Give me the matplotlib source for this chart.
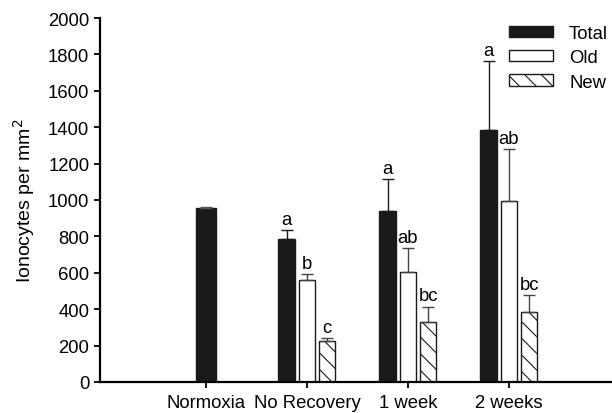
import matplotlib
matplotlib.use('Agg')
from matplotlib import pyplot as plt
import numpy as np

plt.rcParams['font.family'] = ['Liberation Sans', 'DejaVu Sans']
plt.rcParams['hatch.linewidth'] = 0.8

groups = ['Normoxia', 'No Recovery', '1 week', '2 weeks']

# Normoxia only has a total
normoxia_total = 954
normoxia_err = 8

# No Recovery, 1 week, 2 weeks
total = [783, 939, 1387]
total_err = [50, 178, 378]
old = [558, 607, 994]
old_err = [36, 130, 288]
new = [227, 330, 385]
new_err = [15, 84, 94]

total_lbl = ['a', 'a', 'a']
old_lbl = ['b', 'ab', 'ab']
new_lbl = ['c', 'bc', 'bc']

fig = plt.figure(figsize=(6.12, 4.14), dpi=100)
ax = fig.add_axes([0.163, 0.075, 0.837, 0.879])

x = np.arange(len(groups))
xs = x[1:]
w = 0.165
step = 0.2
ekw = dict(elinewidth=1, capthick=1, capsize=4.5)
fs = 13.3

ax.bar(x[0], normoxia_total, 0.2, yerr=[[0], [normoxia_err]], color='#1a1a1a',
       edgecolor='#1a1a1a', ecolor='#555555', error_kw=ekw)
ax.bar(xs - step, total, w, yerr=[[0]*3, total_err], color='#1a1a1a', edgecolor='#1a1a1a',
       ecolor='#1a1a1a', error_kw=ekw, label='Total')
ax.bar(xs, old, w, yerr=[[0]*3, old_err], color='white', edgecolor='#1a1a1a', linewidth=1,
       ecolor='#444444', error_kw=ekw, label='Old')
ax.bar(xs + step, new, w, yerr=[[0]*3, new_err], color='white', edgecolor='#1a1a1a', linewidth=1,
       hatch='\\\\', ecolor='#444444', error_kw=ekw, label='New')

for i in range(3):
    ax.text(xs[i] - step, total[i] + total_err[i] + 12, total_lbl[i], ha='center', va='bottom', fontsize=fs)
    ax.text(xs[i], old[i] + old_err[i] + 12, old_lbl[i], ha='center', va='bottom', fontsize=fs)
    ax.text(xs[i] + step, new[i] + new_err[i] + 12, new_lbl[i], ha='center', va='bottom', fontsize=fs)

ax.set_xlim(-1.05, 4.02)
ax.set_ylim(0, 2000)
ax.set_yticks(np.arange(0, 2001, 200))
ax.set_xticks(x)
ax.set_xticklabels(groups)
ax.tick_params(labelsize=fs, width=1.3, length=4)
ax.tick_params(axis='x', pad=5)
ax.set_ylabel('Ionocytes per mm$^2$', fontsize=14, labelpad=8)
for s in ['top', 'right']:
    ax.spines[s].set_visible(False)
for s in ['left', 'bottom']:
    ax.spines[s].set_linewidth(1.6)

ax.legend(loc='upper right', bbox_to_anchor=(1.014, 1.012), frameon=False, fontsize=fs,
          handlelength=2.4, handleheight=0.55, handletextpad=0.85, labelspacing=0.4,
          borderaxespad=0.2)

fig.savefig('out.png', dpi=100)
